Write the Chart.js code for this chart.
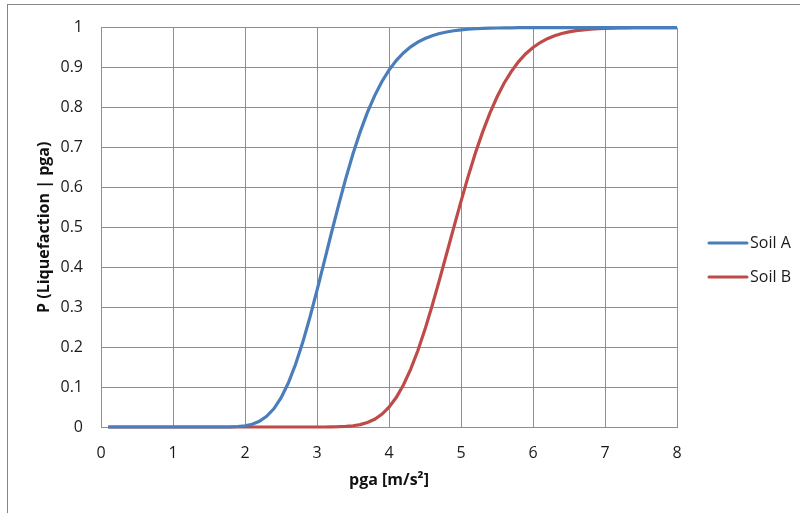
<!DOCTYPE html>
<html>
<head>
<meta charset="utf-8">
<script src="https://cdn.jsdelivr.net/npm/chart.js@4/dist/chart.umd.min.js"></script>
<style>
html,body{margin:0;padding:0;background:#fff;width:800px;height:513px;overflow:hidden;}
#wrap{position:relative;width:800px;height:513px;}
#c{position:absolute;left:0;top:0;}
#frame{position:absolute;left:7px;top:4px;width:900px;height:700px;border-left:1px solid #868686;border-top:1px solid #868686;pointer-events:none;}
</style>
</head>
<body>
<div id="wrap">
<canvas id="c" width="800" height="513"></canvas>
<div id="frame"></div>
</div>
<script>
const pga = [0.1,0.2,0.3,0.4,0.5,0.6,0.7,0.8,0.9,1.0,
  1.1,1.2,1.3,1.4,1.5,1.6,1.7,1.8,1.9,2.0,
  2.1,2.2,2.3,2.4,2.5,2.6,2.7,2.8,2.9,3.0,
  3.1,3.2,3.3,3.4,3.5,3.6,3.7,3.8,3.9,4.0,
  4.1,4.2,4.3,4.4,4.5,4.6,4.7,4.8,4.9,5.0,
  5.1,5.2,5.3,5.4,5.5,5.6,5.7,5.8,5.9,6.0,
  6.1,6.2,6.3,6.4,6.5,6.6,6.7,6.8,6.9,7.0,
  7.1,7.2,7.3,7.4,7.5,7.6,7.7,7.8,7.9,8.0];

const soilA = [0,0,0,0,0,0,0,0,0,0,
  0,0,0,0,0,0,0,0.0004,0.0012,0.0031,
  0.007,0.0143,0.0266,0.0456,0.0728,0.1094,0.1558,0.2107,0.2736,0.342,
  0.4133,0.4857,0.5557,0.6225,0.684,0.739,0.7876,0.8292,0.8646,0.8936,
  0.9174,0.9366,0.9517,0.9636,0.9728,0.9798,0.9851,0.9891,0.9921,0.9943,
  0.9959,0.9971,0.9979,0.9985,0.999,0.9993,0.9995,0.9997,0.9998,0.9998,
  0.9999,0.9999,1,1,1,1,1,1,1,1,
  1,1,1,1,1,1,1,1,1,1];

const soilB = [0,0,0,0,0,0,0,0,0,0,
  0,0,0,0,0,0,0,0,0,0,
  0,0,0,0,0,0,0,0,0,0,
  0,0.0003,0.0007,0.0015,0.0031,0.0061,0.0112,0.0194,0.0318,0.0495,
  0.0737,0.1051,0.1441,0.1908,0.2445,0.304,0.3677,0.4337,0.5,0.565,
  0.6274,0.6858,0.7383,0.7853,0.8261,0.8613,0.8906,0.915,0.9346,0.9503,
  0.9626,0.9722,0.9795,0.9851,0.9892,0.9923,0.9945,0.9962,0.9973,0.9981,
  0.9987,0.9991,0.9994,0.9996,0.9997,0.9998,0.9999,0.9999,1,1];

const yTickLabels = ['0','0.1','0.2','0.3','0.4','0.5','0.6','0.7','0.8','0.9','1'];
const xTickLabels = ['0','1','2','3','4','5','6','7','8'];
const seriesNames = ['Soil A','Soil B'];
const seriesColors = ['#4a7ebb','#be4b48'];
const xTitle = 'pga [m/s²]';
const yTitle = 'P (Liquefaction | pga)';

const FONT = '"Open Sans", "DejaVu Sans", sans-serif';
const GRID = '#8e8e8e';

const legendPlugin = {
  id: 'sideLegend',
  afterDraw(chart) {
    const ctx = chart.ctx;
    const ca = chart.chartArea;
    const x0 = ca.right + 32;
    const baseY = 243;
    ctx.save();
    ctx.font = '16px ' + FONT;
    ctx.textBaseline = 'middle';
    ctx.textAlign = 'left';
    chart.data.datasets.forEach((ds, i) => {
      const y = baseY + i * 34;
      ctx.strokeStyle = ds.borderColor;
      ctx.lineWidth = 3;
      ctx.lineCap = 'round';
      ctx.beginPath();
      ctx.moveTo(x0, y);
      ctx.lineTo(x0 + 38, y);
      ctx.stroke();
      ctx.fillStyle = '#1a1a1a';
      ctx.fillText(ds.label, x0 + 41, y);
    });
    ctx.restore();
  }
};

new Chart(document.getElementById('c'), {
  type: 'line',
  data: {
    datasets: [
      { label: seriesNames[0], data: pga.map((x, i) => ({x: x, y: soilA[i]})), borderColor: seriesColors[0], backgroundColor: seriesColors[0], borderWidth: 3.2, pointRadius: 0, tension: 0, fill: false, clip: 6 },
      { label: seriesNames[1], data: pga.map((x, i) => ({x: x, y: soilB[i]})), borderColor: seriesColors[1], backgroundColor: seriesColors[1], borderWidth: 3.2, pointRadius: 0, tension: 0, fill: false, clip: 6 }
    ]
  },
  options: {
    responsive: false,
    animation: false,
    devicePixelRatio: 1,
    layout: { padding: { left: 0, top: 26, right: 123, bottom: 0 } },
    plugins: { legend: { display: false }, tooltip: { enabled: false } },
    scales: {
      x: {
        type: 'linear', min: 0, max: 8,
        ticks: { stepSize: 1, padding: 17, color: '#1a1a1a', font: { family: FONT, size: 16 },
          callback: (v, i) => xTickLabels[i] },
        grid: { color: GRID, lineWidth: 1, drawTicks: false },
        border: { color: GRID, width: 1 },
        title: { display: true, text: xTitle, color: '#111', font: { family: FONT, size: 16, weight: 'bold' }, padding: { top: 0, bottom: 23 } },
        afterFit(scale) { scale.height = 86; }
      },
      y: {
        type: 'linear', min: 0, max: 1,
        ticks: { stepSize: 0.1, padding: 18, color: '#1a1a1a', font: { family: FONT, size: 16 },
          callback: (v, i) => yTickLabels[i] },
        grid: { color: GRID, lineWidth: 1, drawTicks: false },
        border: { color: GRID, width: 1 },
        title: { display: true, text: yTitle, color: '#111', font: { family: FONT, size: 16, weight: 'bold' }, padding: { top: 35, bottom: 0 } },
        afterFit(scale) { scale.width = 101; }
      }
    }
  },
  plugins: [legendPlugin]
});
</script>
</body>
</html>
